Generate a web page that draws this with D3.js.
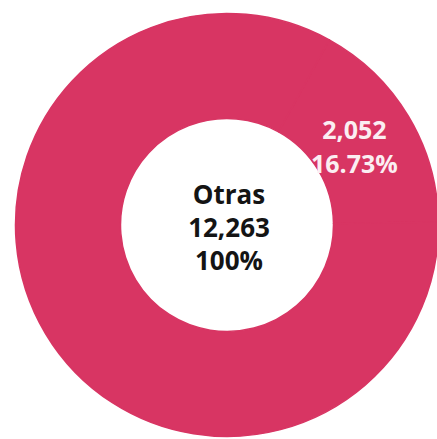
<!DOCTYPE html>
<html>
<head>
<meta charset="utf-8">
<script src="https://cdn.jsdelivr.net/npm/d3@7"></script>
<style>
  html, body { margin: 0; padding: 0; background: #ffffff; }
  svg { display: block; }
</style>
</head>
<body>
<svg id="chart" width="437" height="439"></svg>
<script>
// Data
const categories = ["2,052", "resto"];
const values = [2052, 10211];
const totalLabel = ["Otras", "12,263", "100%"];
const sliceLabels = [["2,052", "16.73%"], null];

const W = 437, H = 439;
const cx = 227, cy = 225;
const outerR = 211.5, innerR = 106.5;
const color = "#d83563";

const svg = d3.select("#chart");
const g = svg.append("g").attr("transform", `translate(${cx},${cy})`);

const pie = d3.pie().sort(null).value(d => d)
  .startAngle(0.505).endAngle(0.505 + 2 * Math.PI);
const arcs = pie(values);
const arc = d3.arc().innerRadius(innerR).outerRadius(outerR);
const labelArc = d3.arc().innerRadius(152).outerRadius(152);

g.selectAll("path.slice").data(arcs).join("path")
  .attr("class", "slice")
  .attr("d", arc)
  .attr("fill", color)
  .attr("stroke", color)
  .attr("stroke-width", 1.5)
  .attr("stroke-linejoin", "round");

// slice labels
arcs.forEach((a, i) => {
  const lab = sliceLabels[i];
  if (!lab) return;
  const [x, y] = labelArc.centroid(a);
  const t = g.append("text")
    .attr("text-anchor", "middle")
    .attr("font-family", "'Open Sans', sans-serif")
    .attr("font-weight", 700)
    .attr("font-size", 25)
    .attr("fill", "#fbeef2");
  t.append("tspan").attr("x", x - 3).attr("y", y - 8).text(lab[0]);
  t.append("tspan").attr("x", x - 3).attr("y", y + 26).text(lab[1]);
});

// center label
const ct = g.append("text")
  .attr("text-anchor", "middle")
  .attr("font-family", "'Open Sans', sans-serif")
  .attr("font-weight", 700)
  .attr("font-size", 26)
  .attr("fill", "#141414");
totalLabel.forEach((s, i) => {
  ct.append("tspan").attr("x", 2).attr("y", -21 + i * 33).text(s);
});
</script>
</body>
</html>
